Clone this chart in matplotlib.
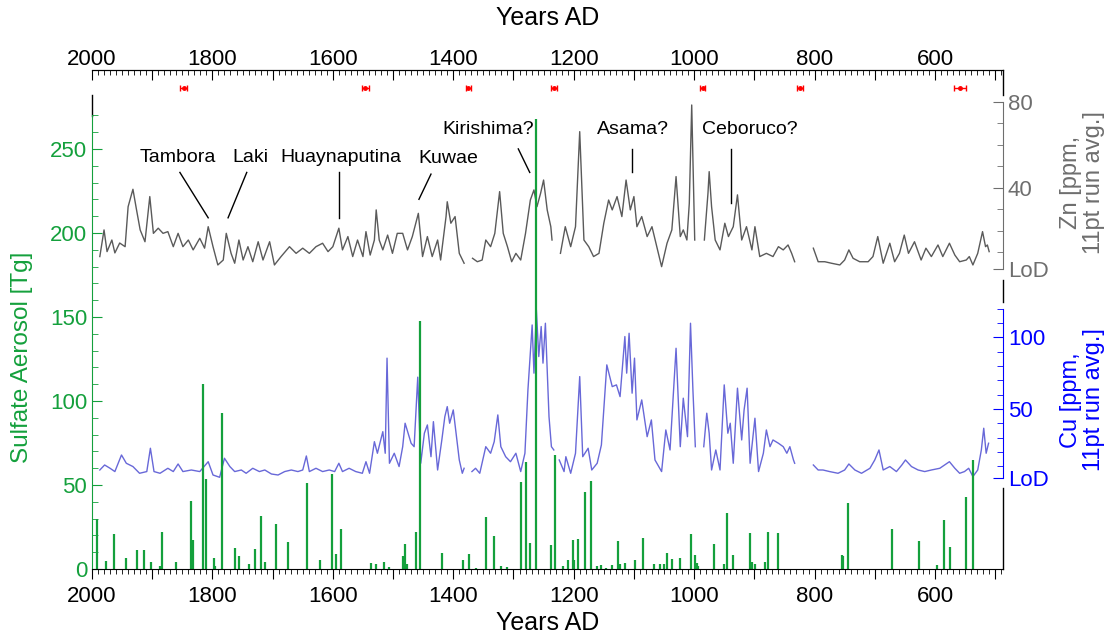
import numpy as np
import matplotlib.pyplot as plt
from matplotlib.ticker import FixedLocator, FuncFormatter, MultipleLocator

plt.rcParams['font.family'] = ['Liberation Sans', 'DejaVu Sans']

nan = np.nan

# Zn, ppm (11 point running average), gaps marked with nan
zn_year = [1987, 1980, 1975, 1967, 1962, 1954, 1945, 1940, 1932, 1926, 1920, 1912, 1904, 1898,
           1890, 1882, 1874, 1865, 1857, 1849, 1840, 1832, 1821, 1813, 1807, 1799, 1791, 1782,
           1777, 1769, 1763, 1756, 1749, 1741, 1733, 1724, 1716, 1705, 1697, 1686, 1672, 1661,
           1650, 1639, 1628, 1617, 1608, 1600, 1590, 1584, 1575, 1567, 1559, 1550, 1545, 1538,
           1531, 1528, 1523, 1517, 1509, 1501, 1493, 1484, 1476, 1468, 1458, 1451, 1443, 1435,
           1426, 1421, 1412, 1410, 1404, 1397, 1390, 1382, 1375,
           1368, 1360, 1352, 1346, 1338, 1331, 1323, 1317, 1310, 1303, 1296, 1288, 1280, 1272,
           1266, 1261, 1255, 1250, 1244, 1238, 1236, 1229,
           1222, 1214, 1205, 1197, 1190, 1183, 1175, 1167, 1158, 1150, 1142, 1136, 1128, 1120,
           1113, 1106, 1100, 1095, 1087, 1078, 1070, 1062, 1054, 1045, 1037, 1030, 1023, 1018,
           1012, 1008, 1004, 999, 991,
           983, 977, 975, 971, 965, 957, 949, 943, 935, 928, 921, 913, 904, 899, 891, 880, 869,
           860, 852, 844, 838, 833, 818,
           802, 794, 783, 772, 758, 750, 743, 736, 725, 711, 703, 695, 686, 675, 667, 659, 651,
           644, 634, 623, 615, 606, 595, 587, 576, 567, 559, 548, 543, 537, 529, 521, 516, 513, 510]
zn_val = [8.0, 20.4, 10.3, 15.7, 9.7, 14.3, 12.6, 31.2, 39.3, 29.7, 20.4, 14.9, 35.9, 18.8,
          21.2, 18.8, 19.6, 12.6, 18.8, 12.6, 15.7, 11.1, 16.5, 11.9, 21.9, 12.6, 4.1, 6.4,
          18.8, 9.5, 4.9, 15.7, 6.4, 12.6, 5.6, 14.9, 6.4, 14.9, 4.1, 8.0, 12.6, 9.5,
          11.9, 9.5, 12.6, 14.2, 10.3, 12.6, 21.2, 11.1, 17.3, 8.0, 15.7, 8.0, 19.6, 8.7,
          15.7, 29.7, 15.7, 11.1, 18.0, 9.5, 18.8, 18.8, 11.1, 17.3, 28.1, 8.0, 17.3, 8.0,
          15.7, 6.4, 26.6, 33.5, 23.5, 26.6, 9.5, 4.9, nan,
          7.2, 5.6, 6.4, 15.7, 12.6, 18.8, 38.2, 18.8, 12.6, 5.6, 9.5, 6.4, 18.8, 34.3,
          39.0, 31.2, 37.4, 43.6, 29.7, 21.9, 15.7, nan,
          9.5, 21.9, 12.6, 21.9, 66.1, 15.7, 12.6, 8.0, 9.5, 23.5, 34.3, 29.7, 35.9, 26.6,
          43.6, 29.7, 35.9, 21.9, 26.6, 17.3, 21.9, 12.6, 3.3, 14.2, 20.4, 45.2, 17.3, 20.4,
          15.7, 32.8, 78.5, 15.7, nan,
          15.7, 37.4, 47.5, 31.2, 15.7, 11.1, 23.5, 17.3, 21.9, 36.7, 15.7, 21.9, 11.1, 21.9, 8.0, 9.5, 8.0,
          12.6, 11.1, 13.4, 9.5, 5.6, nan,
          11.9, 5.6, 5.6, 4.9, 4.1, 6.4, 11.1, 7.2, 5.6, 5.6, 8.0, 17.3, 4.9, 14.2, 5.6, 9.5, 18.0,
          9.5, 14.9, 6.4, 11.9, 8.0, 13.4, 8.0, 14.2, 8.7, 5.6, 6.4, 8.0, 4.1, 9.5, 19.6, 12.6, 13.4, 10.3]

# Cu, ppm (11 point running average)
cu_year = [1987, 1979, 1970, 1962, 1951, 1943, 1932, 1921, 1909, 1903, 1897, 1887, 1874, 1865,
           1857, 1849, 1835, 1821, 1807, 1799, 1788, 1780, 1771, 1763, 1752, 1744, 1733, 1722,
           1713, 1702, 1691, 1680, 1669, 1658, 1650, 1644, 1639, 1628, 1617, 1606, 1597, 1590,
           1584, 1573, 1562, 1551, 1545, 1539, 1531, 1526, 1517, 1513, 1510, 1506, 1498, 1490,
           1484, 1480, 1470, 1465, 1459, 1454, 1448, 1443, 1437, 1433, 1426, 1419, 1414, 1410,
           1406, 1400, 1396, 1390, 1385, 1382, 1375,
           1369, 1363, 1356, 1346, 1338, 1332, 1326, 1321, 1313, 1305, 1296, 1288, 1281, 1276,
           1269, 1266, 1262, 1258, 1254, 1251, 1247, 1241, 1237, 1233, 1228,
           1224, 1216, 1213, 1205, 1197, 1190, 1185, 1176, 1170, 1161, 1154, 1145, 1136, 1129,
           1123, 1115, 1112, 1108, 1103, 1099, 1095, 1087, 1078, 1071, 1065, 1054, 1047, 1040,
           1030, 1023, 1018, 1011, 1006, 1002, 998, 991,
           984, 979, 975, 971, 964, 957, 950, 944, 940, 935, 928, 921, 917, 912, 907, 899, 893,
           885, 880, 874, 869, 860, 852, 846, 841, 835, 833, 818,
           802, 794, 786, 775, 761, 750, 743, 733, 722, 708, 700, 693, 686, 675, 664, 655, 649,
           639, 628, 617, 606, 592, 584, 576, 567, 559, 551, 544, 537, 529, 523, 519, 515, 511]
cu_val = [7.3, 10.8, 8.5, 6.2, 17.8, 12.0, 9.7, 5.0, 6.2, 22.5, 6.2, 5.0, 8.5, 6.2,
          11.5, 6.2, 7.3, 6.2, 13.1, 3.8, 2.2, 15.5, 9.7, 6.2, 7.3, 5.0, 8.5, 6.2,
          7.3, 4.5, 3.8, 6.2, 7.3, 6.2, 7.3, 17.1, 6.2, 8.5, 6.2, 7.3, 6.2, 12.0,
          6.2, 8.5, 6.2, 5.0, 13.1, 5.0, 27.1, 19.0, 34.1, 19.0, 85.5, 12.0, 19.0, 9.7,
          23.6, 40.0, 26.0, 23.6, 72.2, 12.0, 33.0, 38.8, 16.6, 41.1, 7.3, 28.3, 44.6, 51.6,
          40.0, 49.3, 35.3, 14.3, 5.0, 8.5, nan,
          6.2, 8.5, 5.0, 23.6, 19.0, 27.1, 45.8, 23.6, 16.6, 13.1, 19.0, 6.2, 19.0, 63.3,
          108.7, 75.0, 119.2, 86.6, 107.6, 82.0, 109.9, 44.6, 23.6, 21.3, nan,
          14.3, 6.2, 16.6, 5.0, 19.0, 72.6, 16.6, 22.5, 7.3, 12.0, 24.8, 80.8, 65.6, 66.8,
          58.6, 100.6, 75.0, 102.9, 61.0, 85.5, 42.3, 56.3, 30.6, 42.3, 14.3, 6.2, 35.3, 21.3,
          92.4, 23.6, 57.5, 30.6, 109.9, 63.3, 23.6, nan,
          23.6, 47.0, 33.0, 7.3, 21.3, 7.3, 66.8, 33.0, 40.0, 12.0, 64.5, 28.3, 49.3, 64.5, 12.0, 43.5, 6.2,
          19.0, 35.3, 23.6, 28.3, 26.0, 23.6, 19.0, 23.6, 14.3, 12.0, nan,
          10.8, 7.3, 7.3, 6.2, 5.0, 7.3, 11.5, 7.3, 5.0, 8.5, 14.3, 21.3, 7.3, 9.7, 6.2, 10.8, 14.3,
          9.7, 7.3, 6.2, 7.3, 8.5, 10.8, 13.1, 8.5, 5.0, 6.2, 8.5, 2.7, 7.3, 21.3, 36.5, 19.0, 26.0]

# volcanic sulfate aerosol, Tg
so4_year = [1992, 1976, 1963, 1944, 1925, 1913, 1902, 1887, 1884, 1861, 1836, 1832, 1816, 1810,
            1797, 1795, 1784, 1762, 1756, 1739, 1730, 1720, 1712, 1695, 1675, 1643, 1621, 1602,
            1595, 1586, 1537, 1528, 1515, 1506, 1484, 1480, 1477, 1462, 1455, 1419, 1384, 1374,
            1362, 1345, 1332, 1320, 1311, 1288, 1279, 1272, 1262, 1237, 1231, 1217, 1210, 1201,
            1199, 1193, 1181, 1172, 1162, 1155, 1146, 1136, 1127, 1123, 1114, 1099, 1085, 1066,
            1056, 1050, 1045, 1036, 1023, 1006, 998, 996, 993, 967, 951, 945, 935, 907, 904, 899,
            883, 877, 860, 754, 752, 745, 671, 627, 597, 585, 575, 549, 537]
so4_val = [30.0, 4.8, 21.0, 6.8, 11.1, 11.1, 4.0, 1.6, 22.0, 4.2, 40.3, 17.1, 109.8, 53.8,
           6.8, 1.6, 93.1, 12.7, 7.7, 3.2, 12.1, 31.4, 4.0, 27.0, 16.1, 51.4, 5.2, 56.4,
           9.2, 24.0, 3.8, 3.0, 4.2, 1.2, 7.6, 14.7, 3.2, 21.8, 147.4, 9.8, 5.2, 9.2,
           0.8, 31.2, 19.9, 1.8, 1.2, 52.0, 63.7, 15.7, 267.7, 14.1, 67.7, 1.6, 5.6, 17.5,
           5.2, 18.1, 45.8, 52.2, 1.6, 2.2, 0.8, 2.2, 16.5, 2.8, 3.4, 5.2, 18.7, 3.0,
           3.0, 3.0, 9.3, 6.2, 6.8, 21.0, 8.1, 3.4, 1.8, 14.7, 2.8, 33.2, 8.1, 21.3, 4.4, 3.0,
           4.2, 22.2, 21.4, 8.6, 7.7, 39.5, 24.0, 16.5, 2.6, 29.2, 13.3, 42.7, 64.7]

# age markers with uncertainty (years)
tie_year = [1848, 1546, 1375, 1233, 986, 824, 559]
tie_err = [6, 6, 4, 5, 4, 5, 10]

volcanoes = ['Tambora', 'Laki', 'Huaynaputina', 'Kuwae', 'Kirishima?', 'Asama?', 'Ceboruco?']

green = '#14a03c'
grey = '#6e6e6e'
blue = '#0000ff'

fig = plt.figure(figsize=(11.11, 6.37), dpi=100)
ax = fig.add_axes([0.0828, 0.1068, 0.82, 0.7834])
ax_zn = ax.twinx()
ax_cu = ax.twinx()
ax.set_zorder(5)
ax.patch.set_visible(False)

# sulfate bars
ax.vlines(so4_year, 0, so4_val, color=green, lw=1.6)
ax.errorbar(tie_year, [286] * len(tie_year), xerr=tie_err, fmt='o', ms=2.5,
            color='red', ecolor='red', elinewidth=1, capsize=2, capthick=1)
ax.set_xlim(2000, 487)
ax.set_ylim(0, 297)

ax.spines['right'].set_visible(False)
ax.spines['left'].set_color(green)
ax.spines['left'].set_bounds(0, 270)
ax.yaxis.set_major_locator(FixedLocator([0, 50, 100, 150, 200, 250]))
ax.yaxis.set_minor_locator(FixedLocator(np.arange(0, 271, 10)))
ax.tick_params(axis='y', which='both', direction='in', colors=green, labelsize=16)
ax.tick_params(axis='y', which='major', length=7)
ax.tick_params(axis='y', which='minor', length=4)
ax.set_ylabel('Sulfate Aerosol [Tg]', color=green, fontsize=17.5, va='center', ha='center')
ax.yaxis.set_label_coords(-0.077, 0.424)

# bottom x axis
ax.xaxis.set_major_locator(MultipleLocator(100))
ax.xaxis.set_minor_locator(MultipleLocator(10))
lab = FuncFormatter(lambda v, p: '%d' % v if v % 200 == 0 else '')
ax.xaxis.set_major_formatter(lab)
ax.tick_params(axis='x', which='both', direction='out', labelsize=16, pad=5)
ax.tick_params(axis='x', which='major', length=7)
ax.tick_params(axis='x', which='minor', length=3.5)
ax.set_xlabel('Years AD', fontsize=18, labelpad=3)

top = ax.secondary_xaxis('top')
top.xaxis.set_major_locator(MultipleLocator(100))
top.xaxis.set_minor_locator(MultipleLocator(10))
top.xaxis.set_major_formatter(lab)
top.tick_params(axis='x', which='both', direction='in', labelsize=16, pad=0)
top.tick_params(axis='x', which='major', length=7)
top.tick_params(axis='x', which='minor', length=3.5)
top.set_xlabel('Years AD', fontsize=18, labelpad=17)

# broken frame pieces
for y0, y1, x in [(0.908, 0.95, 0), (0.95, 1.0, 1), (0.535, 0.579, 1), (0.0, 0.162, 1)]:
    ax.plot([x, x], [y0, y1], color='k', lw=1, transform=ax.transAxes, clip_on=False)

# Zn
ax_zn.plot(zn_year, zn_val, color='#5a5a5a', lw=1.0)
ax_zn.set_ylim(-137.3, 94.8)
for s in ['left', 'top', 'bottom']:
    ax_zn.spines[s].set_visible(False)
ax_zn.spines['right'].set_color(grey)
ax_zn.spines['right'].set_bounds(2, 80)
ax_zn.yaxis.set_major_locator(FixedLocator([2, 40, 80]))
ax_zn.yaxis.set_minor_locator(FixedLocator([10, 20, 30, 50, 60, 70]))
ax_zn.set_yticklabels(['LoD', '40', '80'])
ax_zn.tick_params(axis='y', which='both', direction='in', colors=grey, labelsize=16)
ax_zn.tick_params(axis='y', which='major', length=7)
ax_zn.tick_params(axis='y', which='minor', length=4)
ax_zn.set_ylabel('Zn [ppm,\n11pt run avg.]', color=grey, fontsize=17, linespacing=1.05,
                 va='center', ha='center')
ax_zn.yaxis.set_label_coords(1.087, 0.774)

# Cu
ax_cu.plot(cu_year, cu_val, color='#6868d8', lw=1.0)
ax_cu.set_ylim(-61.9, 287)
for s in ['left', 'top', 'bottom']:
    ax_cu.spines[s].set_visible(False)
ax_cu.spines['right'].set_color(blue)
ax_cu.spines['right'].set_bounds(2, 120)
ax_cu.yaxis.set_major_locator(FixedLocator([2, 50, 100]))
ax_cu.yaxis.set_minor_locator(FixedLocator([10, 20, 30, 40, 60, 70, 80, 90, 110, 120]))
ax_cu.set_yticklabels(['LoD', '50', '100'])
ax_cu.tick_params(axis='y', which='both', direction='in', colors=blue, labelsize=16)
ax_cu.tick_params(axis='y', which='major', length=7)
ax_cu.tick_params(axis='y', which='minor', length=4)
ax_cu.set_ylabel('Cu [ppm,\n11pt run avg.]', color=blue, fontsize=17, linespacing=1.05,
                 va='center', ha='center')
ax_cu.yaxis.set_label_coords(1.087, 0.339)

# volcano labels with leader lines (text position, line start, line end)
notes = [((1857, 245), (1854, 236), (1807, 209)),
         ((1737, 245), (1743, 236), (1774, 209)),
         ((1587, 245), (1590, 236), (1590, 209)),
         ((1408, 244), (1437, 235), (1457, 220)),
         ((1342, 261.5), (1292, 250), (1273, 236)),
         ((1102, 261.5), (1103, 250), (1103, 236)),
         ((908, 261.5), (938, 250), (938, 218))]
for name, (tp, p0, p1) in zip(volcanoes, notes):
    ax.text(tp[0], tp[1], name, ha='center', va='center', fontsize=14)
    ax.plot([p0[0], p1[0]], [p0[1], p1[1]], color='k', lw=1)

fig.savefig('out.png', dpi=100)
